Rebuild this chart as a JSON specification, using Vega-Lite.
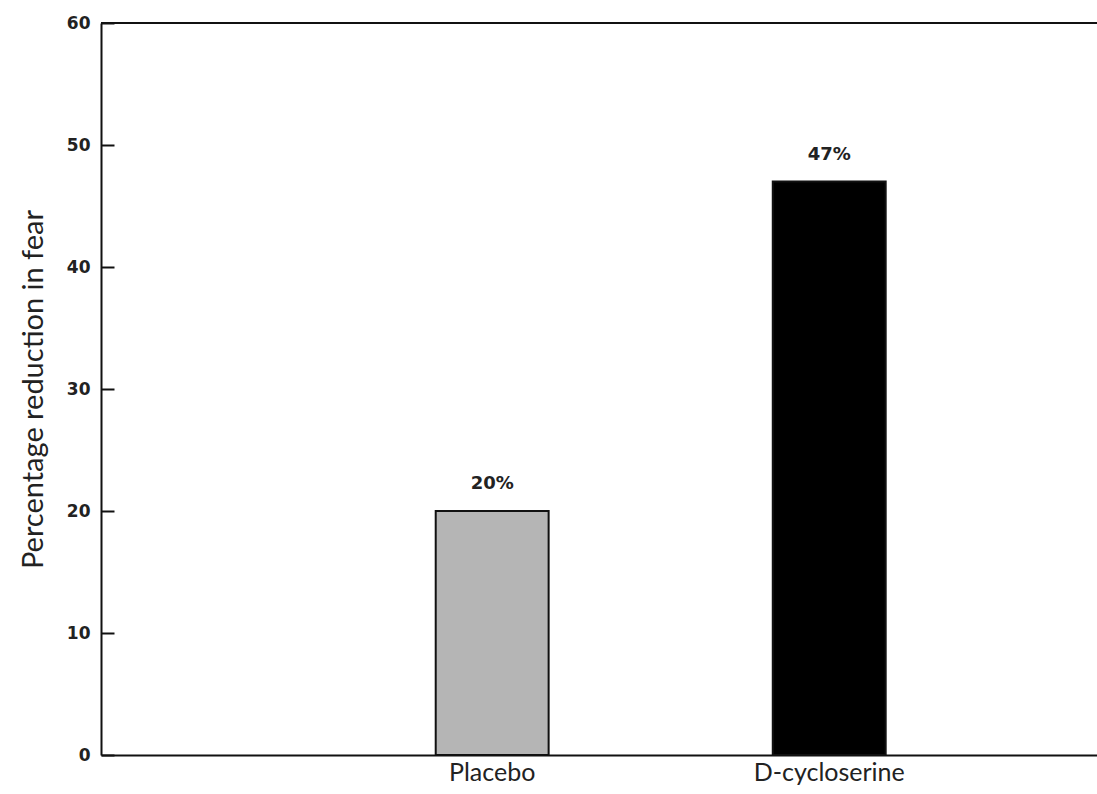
{
  "$schema": "https://vega.github.io/schema/vega-lite/v6.json",
  "width": 996,
  "height": 732,
  "autosize": {"type": "none"},
  "padding": {"left": 101, "top": 23, "right": 0, "bottom": 39},
  "background": "#ffffff",
  "config": {"view": {"stroke": null}},
  "data": {"values": [
    {"group": "Placebo", "reduction": 20, "label": "20%"},
    {"group": "D-cycloserine", "reduction": 47, "label": "47%"}
  ]},
  "encoding": {
    "x": {
      "field": "group", "type": "nominal", "sort": ["Placebo", "D-cycloserine"],
      "scale": {"paddingInner": 0.665, "paddingOuter": 0.81, "align": 0.613},
      "axis": {"title": null, "labelAngle": 0, "ticks": false, "domainColor": "#111", "domainWidth": 2,
        "labelFont": "Lato", "labelFontSize": 25, "labelColor": "#222", "labelPadding": 5}
    },
    "y": {
      "field": "reduction", "type": "quantitative",
      "scale": {"domain": [0, 60], "nice": false},
      "axis": {"title": "Percentage reduction in fear", "values": [0, 10, 20, 30, 40, 50, 60],
        "grid": false, "domainColor": "#111", "domainWidth": 2,
        "tickSize": -13, "tickWidth": 2, "tickColor": "#111", "labelPadding": 24,
        "labelFont": "DejaVu Sans", "labelFontWeight": "bold", "labelFontSize": 17, "labelColor": "#222",
        "titleFont": "Lato", "titleFontSize": 29, "titleFontWeight": "normal", "titleColor": "#222", "titlePadding": 18}
    }
  },
  "layer": [
    {
      "mark": {"type": "bar", "stroke": "#111", "strokeWidth": 2},
      "encoding": {
        "color": {"field": "group", "type": "nominal", "legend": null,
          "scale": {"domain": ["Placebo", "D-cycloserine"], "range": ["#b5b5b5", "#000000"]}}
      }
    },
    {
      "mark": {"type": "text", "dy": -27, "font": "DejaVu Sans", "fontWeight": "bold", "fontSize": 18, "color": "#222"},
      "encoding": {"text": {"field": "label"}}
    },
    {
      "mark": {"type": "rule", "color": "#111", "strokeWidth": 2},
      "encoding": {"y": {"datum": 60}, "x": null}
    }
  ]
}
